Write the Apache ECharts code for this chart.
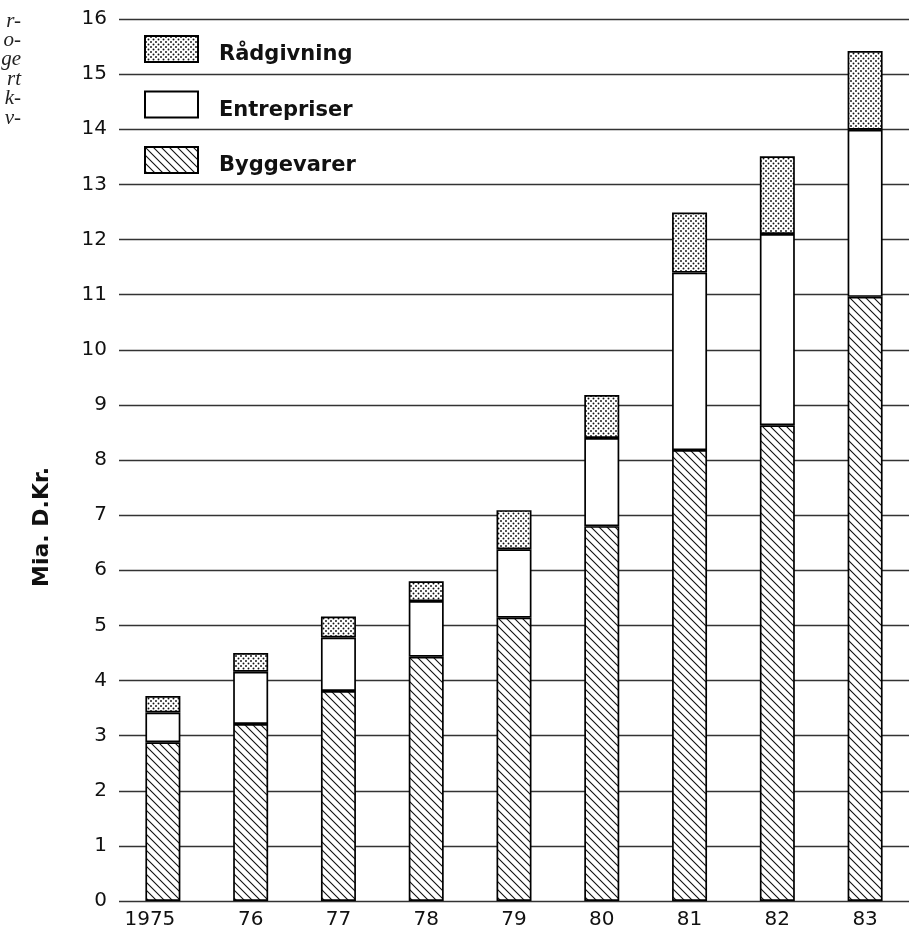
<!DOCTYPE html>
<html><head><meta charset="utf-8">
<script src="https://cdn.jsdelivr.net/npm/echarts/dist/echarts.min.js"></script>
<style>html,body{margin:0;padding:0;background:#fff}#c{width:909px;height:933px}</style>
</head><body><div id="c"></div>
<script>
const years = ['1975','76','77','78','79','80','81','82','83'];
const byggevarer  = [2.88, 3.21, 3.81, 4.43, 5.14, 6.80, 8.18, 8.63, 10.96];
const entrepriser = [0.54, 0.95, 0.97, 1.01, 1.24, 1.60, 3.22, 3.47, 3.03];
const raadgivning = [0.30, 0.34, 0.38, 0.36, 0.71, 0.78, 1.09, 1.41, 1.43];
const seriesNames = ['Byggevarer','Entrepriser','Rådgivning'];
const legendOrder = ['Rådgivning','Entrepriser','Byggevarer'];
const yAxisName = 'Mia. D.Kr.';
const sideText = ['r-','o-','ge','rt','k-','v-'];

function hatch(){
  const c=document.createElement('canvas');c.width=8;c.height=8;
  const g=c.getContext('2d');g.fillStyle='#fff';g.fillRect(0,0,8,8);
  g.strokeStyle='#111';g.lineWidth=1.1;g.beginPath();
  g.moveTo(-1,-1);g.lineTo(9,9);g.moveTo(-1,7);g.lineTo(1,9);g.moveTo(7,-1);g.lineTo(9,1);
  g.stroke();return c;
}
function dots(){
  const c=document.createElement('canvas');c.width=5;c.height=5;
  const g=c.getContext('2d');g.fillStyle='#fff';g.fillRect(0,0,5,5);
  g.fillStyle='#111';
  g.beginPath();g.arc(1,1,0.95,0,Math.PI*2);g.fill();
  g.beginPath();g.arc(3.5,3.5,0.95,0,Math.PI*2);g.fill();
  return c;
}
const fills = [{image:hatch(),repeat:'repeat'}, '#fff', {image:dots(),repeat:'repeat'}];
const dataArr = [byggevarer, entrepriser, raadgivning];

const chart = echarts.init(document.getElementById('c'), null, {renderer:'canvas'});
const graphics = sideText.map((t,i)=>({
  type:'text', x:21, y:21+i*19.4,
  style:{text:t, font:'italic 21px "Liberation Serif"', fill:'#222',
         textAlign:'right', textVerticalAlign:'middle', align:'right', verticalAlign:'middle'}
}));
graphics.push({
  type:'text', x:42, y:527, rotation:Math.PI/2,
  style:{text:yAxisName, font:'bold 22px "DejaVu Sans"', fill:'#111',
         textAlign:'center', textVerticalAlign:'middle', align:'center', verticalAlign:'middle'}
});
chart.setOption({
  animation:false,
  backgroundColor:'#fff',
  grid:{left:119, top:19, width:792, height:882, containLabel:false},
  legend:{
    data:legendOrder, orient:'vertical', left:144, top:35, padding:0,
    itemWidth:53, itemHeight:26, itemGap:25,
    icon:'rect',
    itemStyle:{borderColor:'#000', borderWidth:2},
    formatter:n=>'{t|'+n+'}',
    textStyle:{fontFamily:'DejaVu Sans', fontWeight:'bold', fontSize:21, color:'#111',
      rich:{t:{fontFamily:'DejaVu Sans', fontWeight:'bold', fontSize:21, color:'#111', padding:[12,0,0,16]}}},
    selectedMode:false
  },
  xAxis:{
    type:'category', data:years,
    axisLine:{show:false}, axisTick:{show:false},
    axisLabel:{
      interval:0, margin:9, fontFamily:'DejaVu Sans', fontSize:20, color:'#111',
      formatter:(v,i)=> i===0 ? '{a|'+v+'}' : v,
      rich:{a:{fontFamily:'DejaVu Sans', fontSize:20, color:'#111', padding:[0,26,0,0]}}
    }
  },
  yAxis:{
    type:'value', min:0, max:16, interval:1,
    axisLine:{show:false}, axisTick:{show:false},
    axisLabel:{margin:12, fontFamily:'DejaVu Sans', fontSize:20, color:'#111'},
    splitLine:{show:true, lineStyle:{color:'#333', width:1.3}}
  },
  graphic:graphics,
  series: seriesNames.map((n,k)=>({
    name:n, type:'bar', stack:'total', barWidth:35, data:dataArr[k],
    itemStyle:{color:fills[k], borderColor:'#000', borderWidth:1.7}
  }))
});
</script></body></html>
